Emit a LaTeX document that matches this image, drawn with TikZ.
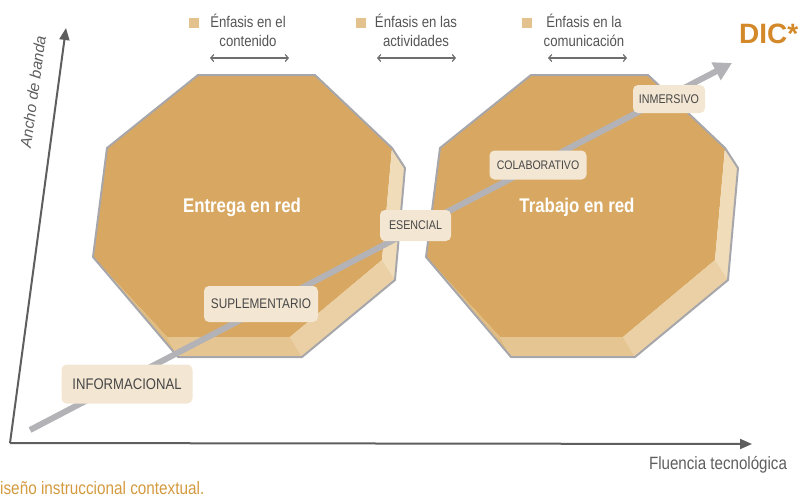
\documentclass[tikz,border=0pt]{standalone}
\usepackage{fontspec}
\setmainfont{Liberation Sans}
\newfontfamily\cf[FakeStretch=0.85]{Liberation Sans}
\usetikzlibrary{arrows.meta}
\definecolor{facedark}{HTML}{D8A862}
\definecolor{faceright}{HTML}{F0DCB9}
\definecolor{facebr}{HTML}{EAD0A4}
\definecolor{facebottom}{HTML}{E5C591}
\definecolor{faceleft}{HTML}{E0BC80}
\definecolor{outlinegray}{HTML}{A7A7AB}
\definecolor{labelfill}{HTML}{F3E6D3}
\definecolor{labeltext}{HTML}{474747}
\definecolor{linegray}{HTML}{B3B2B7}
\definecolor{axisgray}{HTML}{5E5E5E}
\definecolor{bulletc}{HTML}{E3C28D}
\definecolor{hdrtext}{HTML}{555555}
\definecolor{dicc}{HTML}{D3892A}
\definecolor{footc}{HTML}{D39A3E}
\begin{document}
\begin{tikzpicture}[x=1pt,y=-1pt,
  lbl/.style={fill=labelfill, rounded corners=5pt, text=labeltext, inner sep=0pt},
  hdr/.style={align=center, text=hdrtext, inner sep=0pt, anchor=north, font=\cf\fontsize{15.5}{19}\selectfont},
  dbl/.style={draw=axisgray!90, line width=1.2pt, {Straight Barb[length=3pt,width=7pt]}-{Straight Barb[length=3pt,width=7pt]}},
  bullet/.style={fill=bulletc, minimum size=10pt, inner sep=0pt},
  axis/.style={draw=axisgray, line width=2pt, -{Triangle[length=12pt,width=10pt]}},
  octtitle/.style={text=white, anchor=base, inner sep=0pt, font=\cf\bfseries\fontsize{19.8}{22}\selectfont}
]
\useasboundingbox (0,0) rectangle (801,496);

% octagons
\foreach \dx in {0,333}{
\begin{scope}[shift={(\dx,0)}]
  \fill[facedark] (198,75) -- (315,75) -- (392,148) -- (382,260) -- (290,337) -- (167,337) -- (93,257) -- (107,148) -- cycle;
  \fill[faceright] (392,148) -- (405,168) -- (395,280) -- (382,260) -- cycle;
  \fill[facebr] (382,260) -- (395,280) -- (302,357) -- (290,337) -- cycle;
  \fill[facebottom] (290,337) -- (302,357) -- (178,357) -- (167,337) -- cycle;
  \fill[faceleft] (93,257) -- (167,337) -- (178,357) -- cycle;
  \draw[outlinegray, line width=2pt, line join=round] (198,75) -- (315,75) -- (392,148) -- (405,168) -- (395,280) -- (302,357) -- (178,357) -- (93,257) -- (107,148) -- cycle;
\end{scope}}

\node[octtitle] (entrega) at (242,212) {Entrega en red};
\node[octtitle] (trabajo) at (577,212) {Trabajo en red};

% axes
\coordinate (o) at (10,443);
\coordinate (ytip) at (66,28);
\coordinate (xtip) at (752,444);
\draw[axis] (o) -- (ytip);
\draw[axis] (o) -- (xtip);
\node[rotate=82.3, text=axisgray, inner sep=0pt, font=\itshape\fontsize{15.5}{18}\selectfont] (ancho) at (33,92) {Ancho de banda};
\node[anchor=base, text=axisgray, inner sep=0pt, font=\cf\fontsize{17.8}{20}\selectfont] (fluencia) at (718,469) {Fluencia tecnológica};

% progression line
\coordinate (s) at (30,430);
\coordinate (t) at (732,63);
\draw[draw=linegray, line width=6pt, -{Triangle[length=18pt,width=19pt]}] (s) -- (t);

% labels
\node[lbl, minimum width=131pt, minimum height=39pt, font=\cf\fontsize{15.4}{18}\selectfont] (info) at (127,384) {INFORMACIONAL};
\node[lbl, minimum width=114pt, minimum height=36pt, font=\cf\fontsize{13.9}{16}\selectfont] (supl) at (261,304) {SUPLEMENTARIO};
\node[lbl, minimum width=71pt, minimum height=31pt, font=\cf\fontsize{12.6}{15}\selectfont] (esen) at (415.5,225.5) {ESENCIAL};
\node[lbl, minimum width=97pt, minimum height=29pt, font=\cf\fontsize{12.4}{15}\selectfont] (colab) at (538,165) {COLABORATIVO};
\node[lbl, minimum width=72pt, minimum height=28pt, font=\cf\fontsize{12.6}{15}\selectfont] (inmer) at (669,99) {INMERSIVO};

% headers
\node[bullet] (b1) at (194,23) {};
\node[hdr] (h1) at (248,14) {Énfasis en el\\contenido};
\coordinate (a1l) at (210,58); \coordinate (a1r) at (289,58);
\draw[dbl] (a1l) -- (a1r);

\node[bullet] (b2) at (361,23) {};
\node[hdr] (h2) at (416,14) {Énfasis en las\\actividades};
\coordinate (a2l) at (377,58); \coordinate (a2r) at (456,58);
\draw[dbl] (a2l) -- (a2r);

\node[bullet] (b3) at (527,23) {};
\node[hdr] (h3) at (584,14) {Énfasis en la\\comunicación};
\coordinate (a3l) at (548,58); \coordinate (a3r) at (627,58);
\draw[dbl] (a3l) -- (a3r);

% DIC
\node[anchor=base west, text=dicc, inner sep=0pt, font=\bfseries\fontsize{28}{30}\selectfont] (dic) at (739,43) {DIC*};

% footer
\node[anchor=base west, text=footc, inner sep=0pt, font=\cf\fontsize{18}{20}\selectfont] (foot) at (0,494) {iseño instruccional contextual.};
\end{tikzpicture}
\end{document}
